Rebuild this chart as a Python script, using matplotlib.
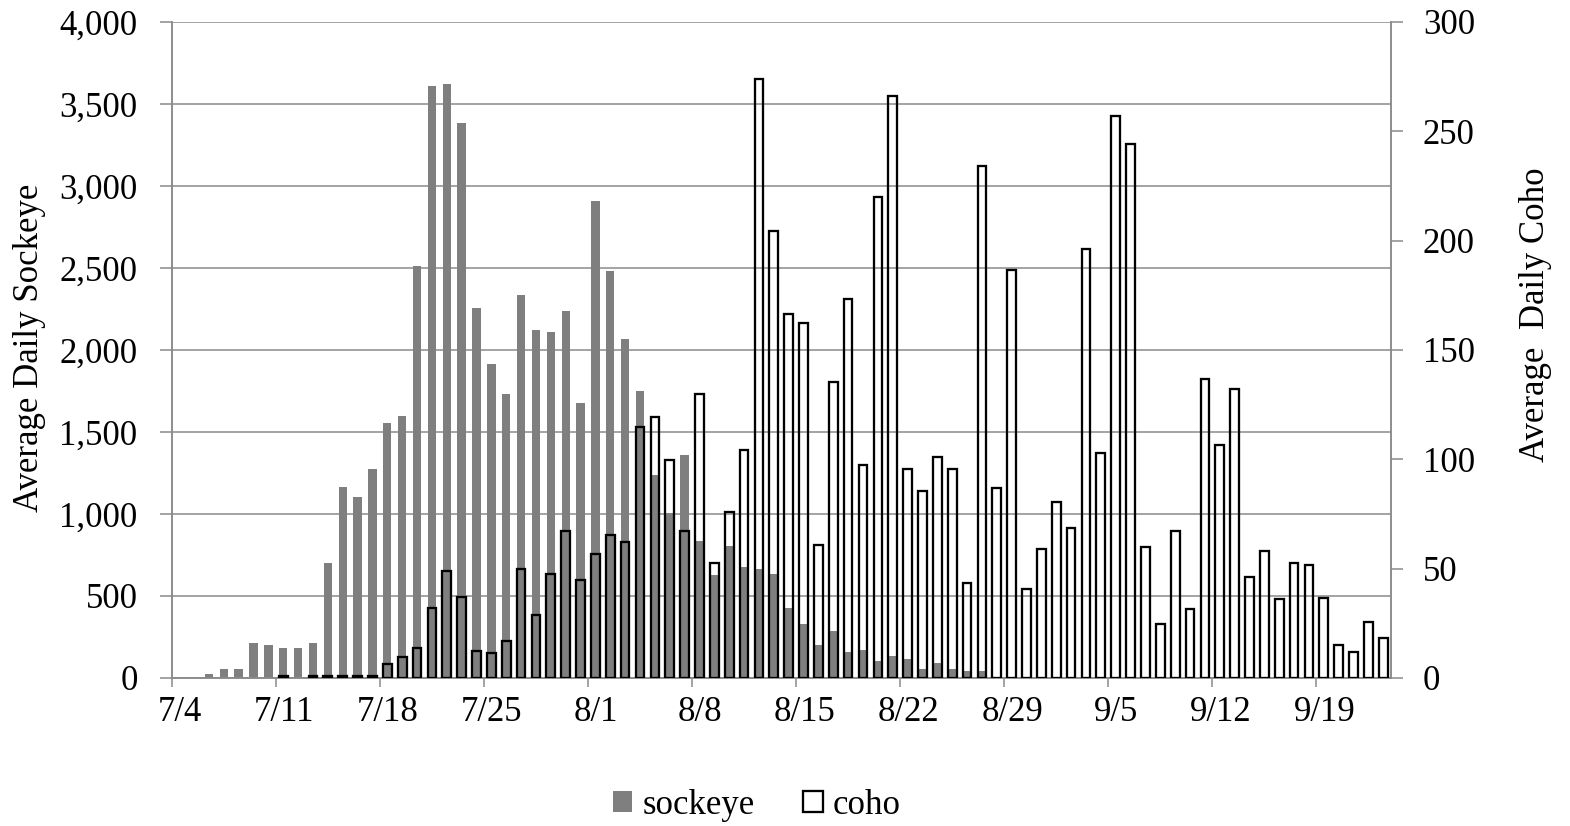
import datetime
import numpy as np
import matplotlib
matplotlib.use('Agg')
import matplotlib.pyplot as plt
from matplotlib.patches import Patch

# daily averages, one value per day starting 7/4
start = datetime.date(2000, 7, 4)

sockeye = [0, 0, 22, 55, 55, 213, 200, 180, 180, 213,
           700, 1165, 1104, 1272, 1557, 1600, 2515, 3608, 3619, 3384,
           2258, 1916, 1731, 2333, 2123, 2112, 2235, 1675, 2907, 2482,
           2067, 1750, 1240, 1005, 1357, 836, 627, 804, 677, 665,
           636, 424, 330, 200, 286, 158, 170, 103, 136, 116,
           52, 94, 52, 42, 40, 0, 0, 0, 0, 0,
           0, 0, 0, 0, 0, 0, 0, 0, 0, 0,
           0, 0, 0, 0, 0, 0, 0, 0, 0, 0,
           0, 0]

coho = [0, 0, 0, 0, 0, 0, 0, 1, 0, 1,
        1, 1, 1, 1, 6.5, 9.7, 13.9, 32, 49, 37,
        12.2, 11.6, 17, 50, 29, 47.5, 67, 44.7, 56.7, 65.3,
        62.2, 114.8, 119.5, 99.6, 67, 129.8, 52.6, 75.8, 104.4, 273.8,
        204.4, 166.6, 162.4, 60.6, 135.5, 173.5, 97.3, 219.8, 266, 95.6,
        85.3, 101, 95.6, 43.3, 234, 87, 186.6, 40.8, 59.2, 80.5,
        68.5, 196, 102.7, 257, 244.3, 59.7, 24.8, 67.4, 31.7, 136.8,
        106.7, 132.2, 46.2, 58, 35.9, 52.5, 51.7, 36.6, 15.1, 11.8,
        25.4, 18.5]

days = [start + datetime.timedelta(d) for d in range(len(sockeye))]
day_labels = ['%d/%d' % (d.month, d.day) for d in days]

plt.rcParams['font.family'] = ['Liberation Serif', 'DejaVu Serif']
plt.rcParams['font.size'] = 25

GRID = '#8a8a8a'

fig = plt.figure(figsize=(15.7, 8.26), dpi=100)
ax = fig.add_axes([0.1094, 0.1792, 0.7764, 0.7942])
ax2 = ax.twinx()

sock = np.array(sockeye, dtype=float)
coh = np.array(coho, dtype=float)
x = np.arange(len(sock)) + 0.5
# empty days get no bar at all (Excel draws nothing there)
ax.bar(x[sock > 0], sock[sock > 0], width=0.56, color='#7f7f7f', zorder=2)
ax2.bar(x[coh > 0], coh[coh > 0], width=0.585, facecolor='none',
        edgecolor='black', linewidth=1.65, zorder=3)

ax.set_xlim(0, len(sock))
ax.set_ylim(0, 4000)
ax2.set_ylim(0, 300)
ax.set_yticks(np.arange(0, 4001, 500))
ax.set_yticklabels(['{:,}'.format(v) for v in range(0, 4001, 500)])
ax2.set_yticks(np.arange(0, 301, 50))

ax.set_axisbelow(True)
ax.yaxis.grid(True, color=GRID, linewidth=1.1)

# tick marks at week starts, labels sit a little to the right of them
week = np.arange(0, len(days), 7)
ax.set_xticks(week)
ax.set_xticklabels([])
ax.set_xticks(week + 0.54, minor=True)
ax.set_xticklabels(day_labels[::7], minor=True)
ax.tick_params(axis='x', which='minor', length=0, pad=13)

for a in (ax, ax2):
    for s in ('left', 'right', 'bottom'):
        a.spines[s].set_color(GRID)
        a.spines[s].set_linewidth(1.1)
    a.spines['top'].set_visible(False)

ax.tick_params(axis='y', length=8.6, width=1.1, color=GRID, pad=16)
ax.tick_params(axis='x', which='major', length=6.5, width=1.1, color=GRID)
ax2.tick_params(axis='y', length=8.6, width=1.1, color=GRID, pad=14.5)

fig.text(30 / 1570, 0.579, 'Average Daily Sockeye', rotation=90,
         ha='center', va='center')
fig.text(1535 / 1570, 0.619, 'Average  Daily Coho', rotation=90,
         ha='center', va='center')

handles = [Patch(facecolor='#7f7f7f', edgecolor='none', label='sockeye'),
           Patch(facecolor='white', edgecolor='black', linewidth=1.65, label='coho')]
fig.legend(handles=handles, loc='center', bbox_to_anchor=(757 / 1570, 1 - 805 / 826),
           ncol=2, frameon=False, handlelength=0.55, handleheight=0.55,
           handletextpad=0.3, columnspacing=1.4)

fig.savefig('out.png', dpi=100)
